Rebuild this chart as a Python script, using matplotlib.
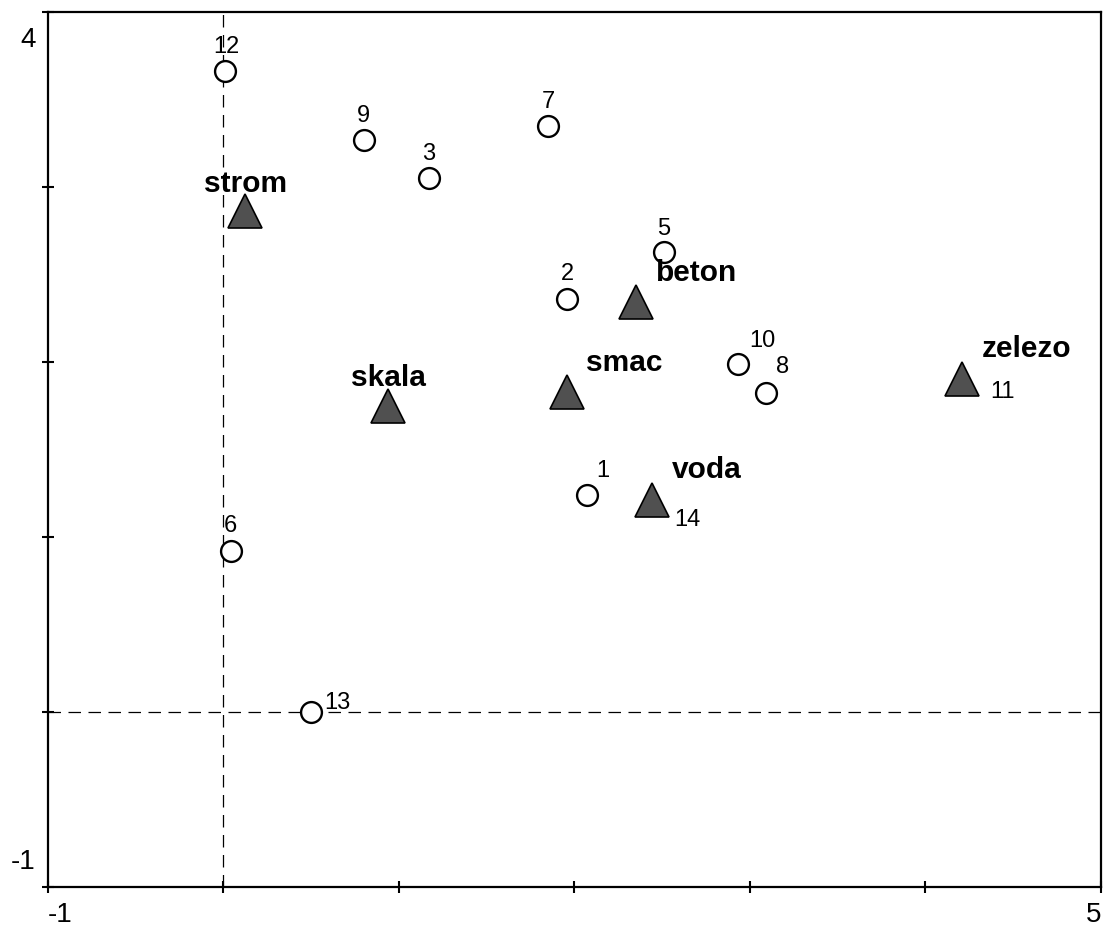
import matplotlib
matplotlib.use('Agg')
import matplotlib.pyplot as plt
from matplotlib.transforms import ScaledTranslation

plt.rcParams['font.family'] = ['Liberation Sans', 'DejaVu Sans']

# sample scores (open circles)
site_ids = ['12', '9', '3', '7', '5', '2', '10', '8', '1', '6', '13']
site_x = [0.01, 0.80, 1.17, 1.85, 2.51, 1.96, 2.93, 3.09, 2.07, 0.04, 0.50]
site_y = [3.66, 3.27, 3.05, 3.35, 2.63, 2.36, 1.99, 1.82, 1.24, 0.92, 0.00]

# species / variable scores (filled triangles)
env_names = ['strom', 'beton', 'skala', 'smac', 'voda', 'zelezo']
env_x = [0.12, 2.35, 0.94, 1.96, 2.44, 4.21]
env_y = [2.86, 2.34, 1.75, 1.83, 1.21, 1.90]

# samples sitting under a triangle (only their number shows)
hidden_ids = ['11', '14']
hidden_x = [4.21, 2.44]
hidden_y = [1.90, 1.21]

x_ticks = [-1, 0, 1, 2, 3, 4, 5]
y_ticks = [-1, 0, 1, 2, 3, 4]

# label offsets in pixels (layout only)
site_off = {'12': (1, 24), '9': (0, 24), '3': (0, 24), '7': (0, 24),
            '5': (0, 23), '2': (0, 25), '10': (25, 23), '8': (17, 26),
            '1': (16, 24), '6': (0, 25), '13': (26, 9)}
hidden_off = {'11': (40, -13), '14': (36, -20)}
env_off = {'strom': (1, 19, 'center'), 'beton': (20, 21, 'left'),
           'skala': (0, 20, 'center'), 'smac': (19, 21, 'left'),
           'voda': (20, 22, 'left'), 'zelezo': (19, 22, 'left')}

fig = plt.figure(figsize=(11.03, 9.30), dpi=100)
ax = fig.add_axes([48 / 1103, 43 / 930, 1053 / 1103, 875 / 930])

ax.set_xlim(-1, 5)
ax.set_ylim(-1, 4)

ax.axvline(0, color='black', lw=0.9, ls=(0, (10, 6)), zorder=1)
ax.axhline(0, color='black', lw=0.9, ls=(0, (10, 6)), zorder=1)

ax.plot(site_x, site_y, 'o', ms=15, mfc='white', mec='black', mew=1.7,
        ls='none', zorder=3)
ax.plot(env_x, env_y, '^', ms=24, mfc='#505050', mec='black', mew=1.2,
        ls='none', zorder=4)

for s, x, y in zip(site_ids, site_x, site_y):
    dx, dy = site_off[s]
    ax.annotate(s, (x, y), xytext=(dx, dy), textcoords='offset pixels',
                ha='center', va='center', fontsize=17, zorder=5)

for s, x, y in zip(hidden_ids, hidden_x, hidden_y):
    dx, dy = hidden_off[s]
    ax.annotate(s, (x, y), xytext=(dx, dy), textcoords='offset pixels',
                ha='center', va='center', fontsize=17, zorder=5)

for n, x, y in zip(env_names, env_x, env_y):
    dx, dy, ha = env_off[n]
    ax.annotate(n, (x, y), xytext=(dx, dy), textcoords='offset pixels',
                ha=ha, va='baseline', fontsize=21.5, fontweight='bold', zorder=5)

# axes frame and ticks
for sp in ax.spines.values():
    sp.set_linewidth(1.6)
ax.set_xticks(x_ticks)
ax.set_yticks(y_ticks)
ax.set_xticklabels([str(x_ticks[0])] + [''] * (len(x_ticks) - 2) + [str(x_ticks[-1])])
ax.set_yticklabels([str(y_ticks[0])] + [''] * (len(y_ticks) - 2) + [str(y_ticks[-1])])
ax.tick_params(direction='inout', length=8, width=1.5, labelsize=20)
ax.tick_params(axis='x', pad=7)
ax.tick_params(axis='y', pad=5)

xl = ax.get_xticklabels()
xl[0].set_ha('left')
xl[-1].set_ha('right')
yl = ax.get_yticklabels()
yl[0].set_va('bottom')
yl[0].set_transform(yl[0].get_transform() + ScaledTranslation(0, 12 / 100, fig.dpi_scale_trans))
yl[-1].set_va('top')
yl[-1].set_transform(yl[-1].get_transform() + ScaledTranslation(0, -15 / 100, fig.dpi_scale_trans))

fig.savefig('out.png', dpi=100)
